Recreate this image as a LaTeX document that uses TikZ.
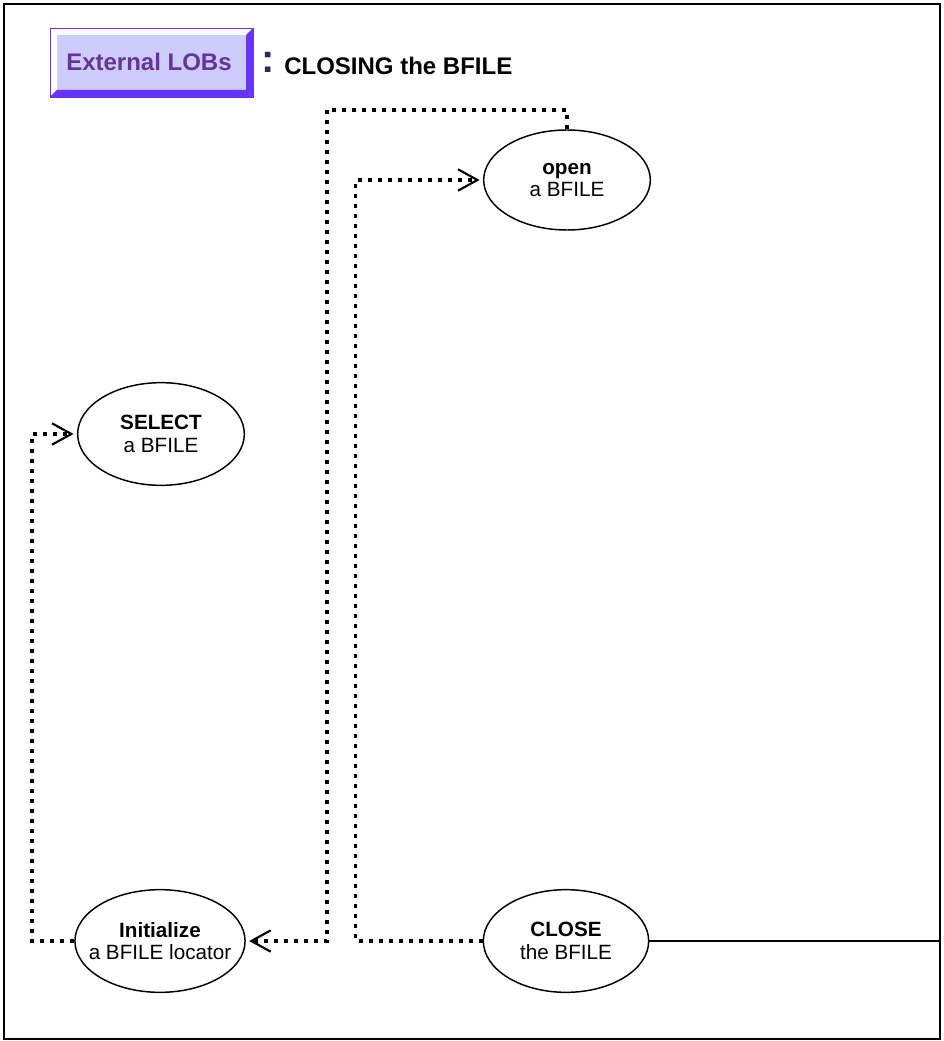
\documentclass[tikz,border=0pt]{standalone}
\usepackage{fontspec}
\setmainfont{Liberation Sans}
\usepackage{tikz}
\usetikzlibrary{shapes.geometric, arrows.meta, positioning, calc}
\definecolor{lobfill}{HTML}{CCCCFF}
\definecolor{lobedge}{HTML}{6633FF}
\definecolor{lobtext}{HTML}{663399}
\definecolor{colonnavy}{HTML}{2B2B55}
\tikzstyle{flow} = [line width=2.8pt, dash pattern=on 3pt off 4.5pt, shorten >=2.5pt, -{Straight Barb[length=14.5pt,width=16pt,line width=1.6pt]}]
\tikzstyle{flowend} = [line width=2.8pt, dash pattern=on 3pt off 4.5pt]
\tikzstyle{line} = [line width=0.8pt,-]

\begin{document}
\begin{tikzpicture}[
    x=0.75pt, y=-0.75pt,
    step box/.style={ellipse, draw, line width=1.1pt, inner sep=0pt, minimum width=124pt, minimum height=76pt, align=center, font=\fontsize{15.5}{16.8}\selectfont},
    frame/.style={draw, line width=1.6pt}
]
    \useasboundingbox (0,0) rectangle (943,1041);
    \draw[frame] (4,4) rectangle (940,1039);
    \coordinate (edge) at (940,0);

    % header button
    \fill[lobfill] (50,28) rectangle (253,97);
    \fill[white!92!lobfill] (50,28) -- (253,28) -- (246,35) -- (57,35) -- cycle;
    \fill[white] (50,28) -- (57,35) -- (57,90) -- (50,97) -- cycle;
    \fill[lobedge] (253,28) -- (253,97) -- (246,90) -- (246,35) -- cycle;
    \fill[lobedge] (50,97) -- (253,97) -- (246,90) -- (57,90) -- cycle;
    \draw[lobedge, line width=0.6pt] (50,28) rectangle (253,97);
    \node[text=lobtext, font=\fontsize{18}{20}\selectfont\bfseries] (lobs) at (149,62) {External LOBs};
    \node[text=colonnavy, font=\fontsize{30}{30}\selectfont\bfseries, inner sep=0pt] (colon) at (268,62) {:};
    \node[anchor=west, inner sep=0pt, font=\fontsize{18}{20}\selectfont\bfseries] (title) at (284,66) {CLOSING the BFILE};

    % steps
    \node[step box, minimum width=125pt, minimum height=75pt] (open) at (567,180) {\textbf{open}\\a BFILE};
    \node[step box, minimum width=125pt, minimum height=77pt] (select) at (161,434) {\textbf{SELECT}\\a BFILE};
    \node[step box, inner xsep=-8.3pt, minimum width=126pt, minimum height=77pt] (init) at (160,941) {\textbf{Initialize}\\a BFILE locator};
    \node[step box, minimum height=77pt] (close) at (566,941) {\textbf{CLOSE}\\the BFILE};

    \coordinate (toprail) at (327,110);

    \draw[flow] (close.west) -- ++(-127,0) |- (open.west);
    \draw[flowend] (open.north) |- (toprail);
    \draw[flow] (toprail) |- (init.east);
    \draw[flow] (init.west) -- ++(-42,0) |- (select.west);
    \draw[line] (close.east) -- (close.east -| edge);
\end{tikzpicture}
\end{document}
